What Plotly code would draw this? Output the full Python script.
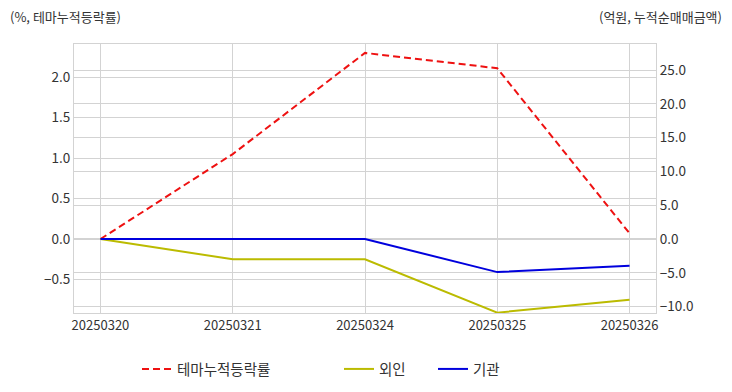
import plotly.graph_objects as go

dates = ["20250320", "20250321", "20250324", "20250325", "20250326"]
theme_rate = [0.0, 1.05, 2.30, 2.11, 0.07]
foreign = [0.0, -3.0, -3.0, -10.9, -9.0]
institution = [0.0, 0.0, 0.0, -4.9, -3.95]

FONT = "Noto Sans CJK KR"
GRID = "#d3d3d3"
TXT = "#333333"

L, R, T, B = 74, 76, 44, 79
W, H = 732, 392
PW, PH = W - L - R, H - T - B


def px(x):
    return (x - L) / PW


def py(y):
    return (H - B - y) / PH


fig = go.Figure()
fig.add_trace(go.Scatter(x=dates, y=theme_rate, name="테마누적등락률", mode="lines",
                         line=dict(color="#ee1111", width=2, dash="7px,4px"), yaxis="y",
                         legend="legend"))
fig.add_trace(go.Scatter(x=dates, y=foreign, name="외인", mode="lines",
                         line=dict(color="#bbbb00", width=2), yaxis="y2", legend="legend2"))
fig.add_trace(go.Scatter(x=dates, y=institution, name="기관", mode="lines",
                         line=dict(color="#0000dd", width=2), yaxis="y2", legend="legend3"))

leg = dict(orientation="h", xanchor="left", yanchor="middle", y=py(369),
           font=dict(size=14.5, color=TXT), bgcolor="rgba(0,0,0,0)")

fig.update_layout(
    width=W, height=H,
    margin=dict(l=L, r=R, t=T, b=B, autoexpand=False),
    paper_bgcolor="white", plot_bgcolor="white",
    font=dict(family=FONT, size=13, color=TXT),
    showlegend=True,
    legend=dict(leg, x=px(137)),
    legend2=dict(leg, x=px(339)),
    legend3=dict(leg, x=px(433)),
    xaxis=dict(type="category", range=[-0.2, 4.2], showgrid=True, gridcolor=GRID,
               showline=True, linecolor=GRID, mirror=True, ticks="", automargin=False,
               tickfont=dict(size=13)),
    yaxis=dict(range=[-0.914, 2.41], tickvals=[-0.5, 0, 0.5, 1.0, 1.5, 2.0], tickformat=".1f",
               showgrid=True, gridcolor=GRID, zeroline=False, showline=True, linecolor=GRID,
               ticks="", automargin=False, tickfont=dict(size=13.5)),
    yaxis2=dict(range=[-10.95, 28.85], overlaying="y", side="right",
                tickvals=[-10, -5, 0, 5, 10, 15, 20, 25], tickformat=".1f",
                showgrid=True, gridcolor=GRID, zeroline=False, showline=True, linecolor=GRID,
                ticks="", automargin=False, tickfont=dict(size=13.5)),
    annotations=[
        dict(text="(%, 테마누적등락률)", xref="paper", yref="paper", x=px(8), y=py(16),
             xanchor="left", yanchor="middle", showarrow=False, font=dict(size=13, color=TXT)),
        dict(text="(억원, 누적순매매금액)", xref="paper", yref="paper", x=px(724), y=py(16),
             xanchor="right", yanchor="middle", showarrow=False, font=dict(size=13, color=TXT)),
    ],
)

fig.write_html("out.html", config={"displayModeBar": False},
               post_script="document.body.style.margin='0';")
